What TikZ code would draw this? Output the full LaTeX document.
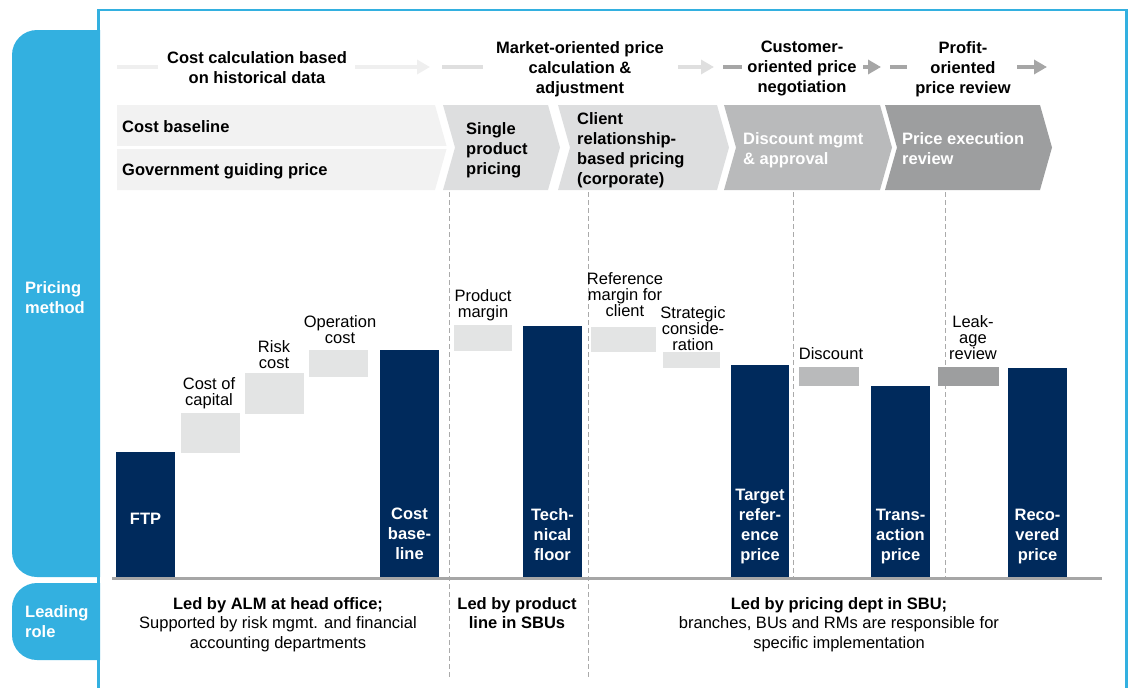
\documentclass[tikz,border=0pt]{standalone}
\usepackage{fontspec}
\setmainfont{Liberation Sans}
\usetikzlibrary{arrows.meta}
\definecolor{skyb}{HTML}{33B0E0}
\definecolor{navy}{HTML}{002A5C}
\definecolor{chA}{HTML}{F2F2F2}
\definecolor{chB}{HTML}{DDDEDF}
\definecolor{chC}{HTML}{B9BABB}
\definecolor{chD}{HTML}{9D9E9F}
\definecolor{boxL}{HTML}{E3E4E4}
\definecolor{dashc}{HTML}{AAAAAA}
\definecolor{arrL}{HTML}{EFEFEF}
\definecolor{arrM}{HTML}{DFDFDF}
\definecolor{arrD}{HTML}{A6A6A6}
\definecolor{basec}{HTML}{A6A6A6}
\begin{document}
\begin{tikzpicture}[x=1pt,y=-1pt,
 barbox/.style={fill=navy, inner sep=0pt, outer sep=0pt, anchor=north west, minimum width=59pt},
 costbox/.style={fill=boxL, inner sep=0pt, outer sep=0pt, anchor=north west},
 lbl/.style={font=\fontsize{16.5}{16}\selectfont, inner sep=0pt, align=center, anchor=north},
 bartxt/.style={font=\fontsize{16.5}{20}\selectfont\bfseries, text=white, inner sep=0pt, align=center, anchor=north},
 ttl/.style={font=\fontsize{16.5}{20}\selectfont\bfseries, inner sep=0pt, align=center, anchor=north},
 chtxt/.style={font=\fontsize{16.5}{20}\selectfont\bfseries, inner sep=0pt, align=left, anchor=north west},
 tabtxt/.style={font=\fontsize{16.5}{20}\selectfont\bfseries, text=white, inner sep=0pt, align=left, anchor=north west},
 roletxt/.style={font=\fontsize{16.5}{19.5}\selectfont, inner sep=0pt, align=center, anchor=north},
 divider/.style={draw=dashc, line width=1pt, dash pattern=on 5pt off 3pt},
 flowline/.style={line width=4.5pt},
 flowarrow/.style={line width=4.5pt, -{Triangle[length=13pt,width=14pt]}},
]
\path[use as bounding box] (0,0) rectangle (1130,688);

% frame
\draw[skyb, line width=2.7pt] (98.7,700) -- (98.7,10) -- (1126.5,10) -- (1126.5,700);

% side tabs
\begin{scope}
\clip (0,0) rectangle (100,688);
\fill[skyb, rounded corners=25pt] (12,30) rectangle (140,577);
\fill[skyb, rounded corners=25pt] (12,583) rectangle (140,660);
\end{scope}
\node[tabtxt] (tabpm) at (25,281) {Pricing\\method};
\node[tabtxt] (tablr) at (25,605) {Leading\\role};

% phase titles
\node[ttl] (t1) at (257,51) {Cost calculation based\\on historical data};
\node[ttl] (t2) at (580,41) {Market-oriented price\\calculation \&\\adjustment};
\node[ttl] (t3) at (802,41) {Customer-\\oriented price\\negotiation};
\node[ttl] (t4) at (963,41) {Profit-\\oriented\\price review};

% flow arrows
\coordinate (a1s) at (117,67); \coordinate (a1e) at (158,67);
\coordinate (a2s) at (355,67); \coordinate (a2e) at (430,67);
\coordinate (a3s) at (442,67); \coordinate (a3e) at (483,67);
\coordinate (a4s) at (678,67); \coordinate (a4e) at (714,67);
\coordinate (a5s) at (723,67); \coordinate (a5e) at (742,67);
\coordinate (a6s) at (863,67); \coordinate (a6e) at (881,67);
\coordinate (a7s) at (890,67); \coordinate (a7e) at (907,67);
\coordinate (a8s) at (1017,67); \coordinate (a8e) at (1047,67);
\draw[flowline, arrL] (a1s) -- (a1e);
\draw[flowarrow, arrL] (a2s) -- (a2e);
\draw[flowline, arrM] (a3s) -- (a3e);
\draw[flowarrow, arrM] (a4s) -- (a4e);
\draw[flowline, arrD] (a5s) -- (a5e);
\draw[flowarrow, arrD] (a6s) -- (a6e);
\draw[flowline, arrD] (a7s) -- (a7e);
\draw[flowarrow, arrD] (a8s) -- (a8e);

% chevrons
\fill[chA] (117,105) -- (435,105) -- (447,147.5) -- (435,190) -- (117,190) -- cycle;
\draw[white, line width=3pt] (115,147.5) -- (450,147.5);
\fill[chB] (443,105) -- (548,105) -- (560,147.5) -- (548,190) -- (443,190) -- (455,147.5) -- cycle;
\fill[chB] (558,105) -- (717,105) -- (729,147.5) -- (717,190) -- (558,190) -- (570,147.5) -- cycle;
\fill[chC] (724,105) -- (880,105) -- (892,147.5) -- (880,190) -- (724,190) -- (736,147.5) -- cycle;
\fill[chD] (885,105) -- (1040,105) -- (1052,147.5) -- (1040,190) -- (885,190) -- (897,147.5) -- cycle;
\node[chtxt] (c1a) at (122,120) {Cost baseline};
\node[chtxt] (c1b) at (122,163) {Government guiding price};
\node[chtxt] (c2) at (466,122) {Single\\product\\pricing};
\node[chtxt] (c3) at (577,112) {Client\\relationship-\\based pricing\\(corporate)};
\node[chtxt, text=white] (c4) at (743,132) {Discount mgmt\\\& approval};
\node[chtxt, text=white] (c5) at (902,132) {Price execution\\review};

% dividers
\coordinate (d1t) at (449,192); \coordinate (d1b) at (449,678);
\coordinate (d2t) at (588,192); \coordinate (d2b) at (588,678);
\coordinate (d3t) at (793,192); \coordinate (d3b) at (793,577);
\coordinate (d4t) at (945,192); \coordinate (d4b) at (945,577);
\draw[divider] (d1t) -- (d1b);
\draw[divider] (d2t) -- (d2b);
\draw[divider] (d3t) -- (d3b);
\draw[divider] (d4t) -- (d4b);

% bars
\node[barbox, minimum height=125pt] (ftp) at (116,452) {};
\node[barbox, minimum height=227pt] (cbl) at (380,350) {};
\node[barbox, minimum height=251pt] (tfl) at (523,326) {};
\node[barbox, minimum height=212pt, minimum width=58pt] (trp) at (731,365) {};
\node[barbox, minimum height=191pt] (trn) at (871,386) {};
\node[barbox, minimum height=209pt] (rcp) at (1008,368) {};

% increments
\node[costbox, minimum width=59pt, minimum height=40pt] (cap) at (181,413) {};
\node[costbox, minimum width=59pt, minimum height=41pt] (rsk) at (245,373) {};
\node[costbox, minimum width=59pt, minimum height=27pt] (opc) at (309,350) {};
\node[costbox, minimum width=58pt, minimum height=26pt] (pmg) at (454,325) {};
\node[costbox, minimum width=65pt, minimum height=25pt] (rmg) at (591,327) {};
\node[costbox, minimum width=57pt, minimum height=16pt] (stc) at (663,352) {};
\node[costbox, fill=chC, minimum width=60pt, minimum height=19pt] (dsc) at (799,367) {};
\node[costbox, fill=chD, minimum width=61pt, minimum height=19pt] (lkr) at (938,367) {};

% baseline
\coordinate (bl1) at (112,578.5); \coordinate (bl2) at (1102,578.5);
\draw[basec, line width=3pt] (bl1) -- (bl2);

% increment labels
\node[lbl] (lcap) at (209,377) {Cost of\\capital};
\node[lbl] (lrsk) at (274,340) {Risk\\cost};
\node[lbl] (lopc) at (340,315) {Operation\\cost};
\node[lbl] (lpmg) at (483,289) {Product\\margin};
\node[lbl] (lrmg) at (625,272) {Reference\\margin for\\client};
\node[lbl] (lstc) at (693,306) {Strategic\\conside-\\ration};
\node[lbl] (ldsc) at (831,347) {Discount};
\node[lbl] (llkr) at (973,315) {Leak-\\age\\review};

% bar labels
\node[bartxt] (tftp) at (145.5,513) {FTP};
\node[bartxt] (tcbl) at (409.5,508) {Cost\\base-\\line};
\node[bartxt] (ttfl) at (552.5,508) {Tech-\\nical\\floor};
\node[bartxt] (ttrp) at (760,489) {Target\\refer-\\ence\\price};
\node[bartxt] (ttrn) at (900.5,509) {Trans-\\action\\price};
\node[bartxt] (trcp) at (1037.5,509) {Reco-\\vered\\price};

% leading roles
\node[roletxt] (r1) at (278,597) {\textbf{Led by ALM at head office;}\\Supported by risk mgmt. and financial\\accounting departments};
\node[roletxt, font=\fontsize{16.5}{19.5}\selectfont\bfseries] (r2) at (517,597) {Led by product\\line in SBUs};
\node[roletxt] (r3) at (839,597) {\textbf{Led by pricing dept in SBU;}\\branches, BUs and RMs are responsible for\\specific implementation};
\end{tikzpicture}
\end{document}
